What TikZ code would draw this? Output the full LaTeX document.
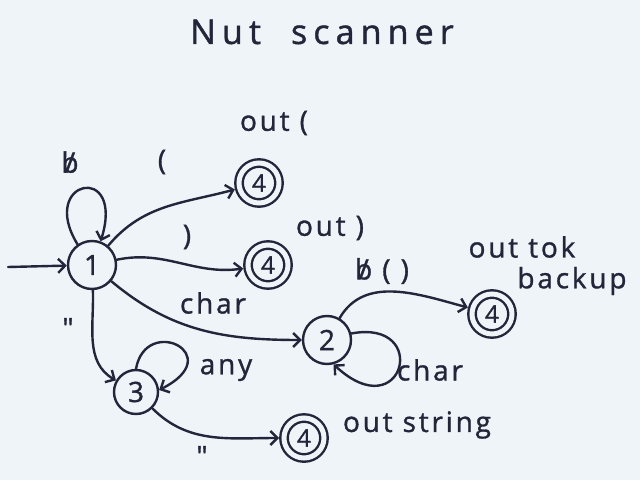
\documentclass[tikz,border=0pt]{standalone}
\usepackage{fontspec}
\setmainfont{Open Sans}
\newfontfamily\hand[LetterSpace=10,FakeBold=1.2]{Open Sans}
\newfontfamily\handtitle[LetterSpace=18,FakeBold=1.2]{Open Sans}
\usetikzlibrary{arrows.meta}
\definecolor{ink}{HTML}{23263A}
\definecolor{paper}{HTML}{EEF4F8}
\newcommand{\blanksym}{{\ooalign{b\cr\hidewidth/\hidewidth\cr}}}
\begin{document}
\begin{tikzpicture}[x=1pt,y=1pt, line width=2.4pt, ink,
 st/.style={circle,draw=ink,minimum size=48pt,inner sep=0pt,font=\hand\fontsize{28}{28}\selectfont},
 acc/.style={circle,draw=ink,double=paper,double distance=5pt,minimum size=40pt,inner sep=0pt,outer sep=5pt,font=\hand\fontsize{24}{24}\selectfont},
 lbl/.style={font=\hand\fontsize{28}{28}\selectfont, inner sep=1pt},
 edge/.style={draw=ink,-{Straight Barb[length=7pt,width=14pt]}, line cap=round}
]
\fill[paper] (0,0) rectangle (640,480);
\useasboundingbox (0,0) rectangle (640,480);
\node[font=\handtitle\fontsize{34}{34}\selectfont] (title) at (322,448) {Nut\hspace{30pt}scanner};
\node[st] (s1) at (92,215) {1};
\node[st] (s2) at (327,140) {2};
\node[st,minimum size=44pt] (s3) at (136,88) {3};
\node[acc] (a1) at (259,297) {4};
\node[acc] (a2) at (268,215) {4};
\node[acc] (a3) at (492,166) {4};
\node[acc] (a4) at (304,42) {4};
\coordinate (start) at (8,213);
\draw[edge] (start) -- (s1);
\draw[edge] (s1.125) .. controls +(-40,65) and +(25,80) .. (s1.70);
\draw[edge] (s1) to[out=50,in=195] (a1);
\draw[edge] (s1) to[out=12,in=188] (a2);
\draw[edge] (s1) to[out=-40,in=180] (s2);
\draw[edge] (s1) to[out=-88,in=150] (s3);
\draw[edge] (s2) to[out=60,in=165] (a3);
\draw[edge] (s2.15) .. controls +(80,15) and +(70,-65) .. (s2.-75);
\draw[edge] (s3.90) .. controls +(10,55) and +(70,35) .. (s3.5);
\draw[edge] (s3) to[out=-45,in=180] (a4);
\node[lbl] (lb1) at (70,318) {\blanksym};
\node[lbl] (lp1) at (162,318) {(};
\node[lbl] (lp2) at (187,243) {)};
\node[lbl] (lc1) at (213,177) {char};
\node[lbl] (o1) at (274,357) {out (};
\node[lbl] (o2) at (330,252) {out )};
\node[lbl] (lb2) at (382,209) {\blanksym\ ( )};
\node[lbl,inner sep=0pt] (o3a) at (522,233) {out tok};
\node[lbl,inner sep=0pt] (o3b) at (572,199) {backup};
\node[lbl] (lc2) at (430,110) {char};
\node[lbl] (lq1) at (68,152) {"};
\node[lbl] (any) at (226,110) {any};
\node[lbl] (os) at (417,55) {out string};
\node[lbl] (lq2) at (202,24) {"};
\end{tikzpicture}
\end{document}
